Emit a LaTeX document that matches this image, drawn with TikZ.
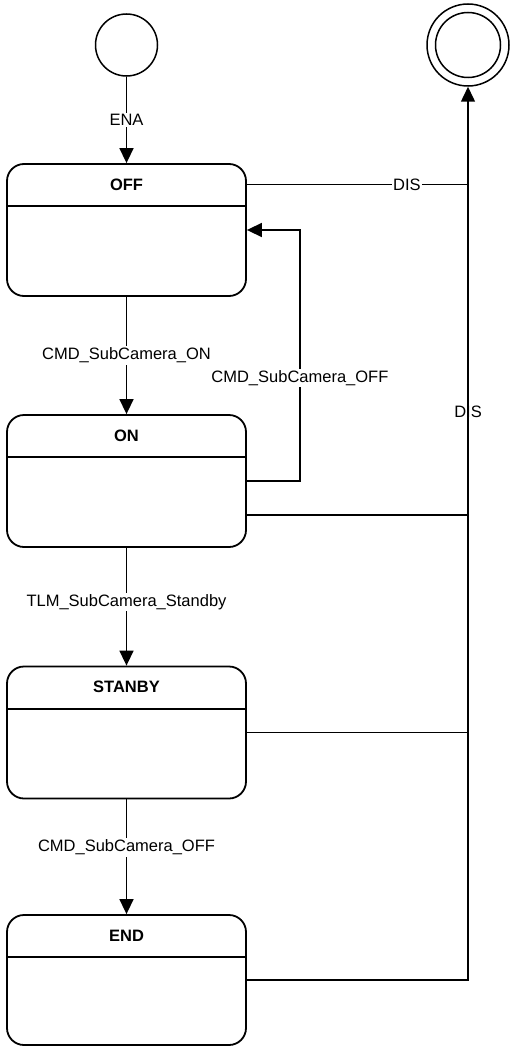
\documentclass[tikz,border=0pt]{standalone}
\usepackage{fontspec}
\setmainfont{Liberation Sans}
\usetikzlibrary{arrows.meta,positioning}
\definecolor{ink}{HTML}{000000}
\tikzset{
  every node/.style={font=\fontsize{16.5}{19}\selectfont,text=ink},
  statebox/.style={draw=ink,line width=1.8pt,rounded corners=17pt,minimum width=239pt,minimum height=132pt,inner sep=0pt},
  statename/.style={font=\fontsize{16.5}{19}\selectfont\bfseries,minimum width=239pt,minimum height=43pt,inner sep=0pt,outer sep=0pt,anchor=north},
  pseudo/.style={draw=ink,line width=1.5pt,circle,inner sep=0pt},
  divider/.style={draw=ink,line width=1.8pt},
  trans/.style={draw=ink,line width=1.5pt,-{Triangle[length=15pt,width=14pt]}},
  wire/.style={draw=ink,line width=1.3pt},
  guard/.style={fill=white,inner sep=1.5pt}
}
\begin{document}
\begin{tikzpicture}[x=1pt,y=-1pt]
  \useasboundingbox (0,0) rectangle (509,1046);
  % Pseudo states: initial and final.
  \node[pseudo,minimum size=62pt] (init) at (126.5,45) {};
  \node[pseudo,minimum size=82pt] (final) at (468,45) {};
  \draw[line width=1.5pt,draw=ink] (final.center) circle (32.5);

  % The four states, each with a name compartment.
  \node[statebox] (off) at (126.5,230) {};
  \node[statename] (offname) at (off.north) {OFF};
  \draw[divider] (offname.south west) -- (offname.south east);
  \node[statebox] (on) at (126.5,481) {};
  \node[statename] (onname) at (on.north) {ON};
  \draw[divider] (onname.south west) -- (onname.south east);
  \node[statebox] (stanby) at (126.5,732.5) {};
  \node[statename] (stanbyname) at (stanby.north) {STANBY};
  \draw[divider] (stanbyname.south west) -- (stanbyname.south east);
  \node[statebox,minimum height=130pt] (end) at (126.5,980) {};
  \node[statename] (endname) at (end.north) {END};
  \draw[divider] (endname.south west) -- (endname.south east);

  % Main sequence.
  \draw[trans] (init) -- node[guard]{ENA} (off);
  \draw[trans] (off) -- node[guard]{CMD\_SubCamera\_ON} (on);
  \draw[trans] (on) -- node[guard,pos=.46]{TLM\_SubCamera\_Standby} (stanby);
  \draw[trans] (stanby) -- node[guard,pos=.42]{CMD\_SubCamera\_OFF} (end);
  \draw[trans] (on.east) -- ++(53,0) |- node[guard,pos=.205]{CMD\_SubCamera\_OFF} (off.east);

  % DIS bus to the final state.
  \coordinate (ondis) at ([yshift=-34pt]on.east);
  \draw[trans] (end.east) -| node[pos=.818,inner sep=0pt]{DIS} (final.south);
  \draw[wire] (stanby.east) -- (stanby.east -| final);
  \draw[wire] (ondis) -- (ondis -| final);
  \draw[wire] (offname.east) -- node[guard,pos=.725]{DIS} (offname.east -| final);
\end{tikzpicture}
\end{document}
